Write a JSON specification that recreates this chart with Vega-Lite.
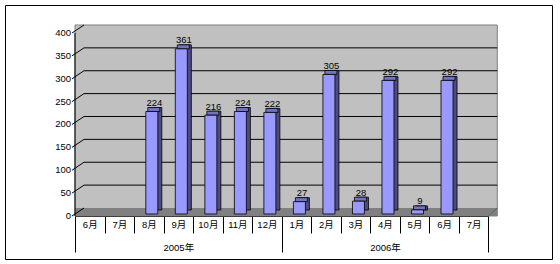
{
  "$schema": "https://vega.github.io/schema/vega-lite/v6.json",
  "width": 547,
  "height": 254,
  "autosize": "none",
  "padding": {"left": 5, "top": 5, "right": 8, "bottom": 5},
  "background": "white",
  "config": {
    "view": {"stroke": "black", "strokeWidth": 1},
    "font": "Liberation Sans, Noto Sans CJK SC",
    "axis": {"labelFont": "Liberation Sans, Noto Sans CJK SC", "labelFontSize": 9.5, "labelColor": "black", "domainColor": "black", "tickColor": "black", "grid": false, "zindex": 1},
    "text": {"font": "Liberation Sans", "fontSize": 9.5, "color": "black"}
  },
  "datasets": {
    "sales": [
      {"k": "2005-6", "year": "2005年", "v": null},
      {"k": "2005-7", "year": "2005年", "v": null},
      {"k": "2005-8", "year": "2005年", "v": 224},
      {"k": "2005-9", "year": "2005年", "v": 361},
      {"k": "2005-10", "year": "2005年", "v": 216},
      {"k": "2005-11", "year": "2005年", "v": 224},
      {"k": "2005-12", "year": "2005年", "v": 222},
      {"k": "2006-1", "year": "2006年", "v": 27},
      {"k": "2006-2", "year": "2006年", "v": 305},
      {"k": "2006-3", "year": "2006年", "v": 28},
      {"k": "2006-4", "year": "2006年", "v": 292},
      {"k": "2006-5", "year": "2006年", "v": 9},
      {"k": "2006-6", "year": "2006年", "v": 292},
      {"k": "2006-7", "year": "2006年", "v": null}
    ],
    "grid": [{"g": 0}, {"g": 50}, {"g": 100}, {"g": 150}, {"g": 200}, {"g": 250}, {"g": 300}, {"g": 350}, {"g": 400}]
  },
  "layer": [
    {
      "data": {"values": [{}]},
      "mark": {"type": "rect", "fill": "#C0C0C0", "stroke": "#808080", "strokeWidth": 1, "x2Offset": 9, "y2Offset": -8},
      "encoding": {
        "x": {"datum": 0, "type": "quantitative", "scale": {"domain": [0, 14], "range": [70, 483.3], "nice": false, "zero": false}, "axis": null},
        "x2": {"datum": 14},
        "y": {"datum": 0, "type": "quantitative", "scale": {"domain": [-94, 461.2], "nice": false, "zero": false}, "axis": null},
        "y2": {"datum": 400}
      }
    },
    {
      "data": {"values": [{}]},
      "mark": {"type": "rect", "fill": "#808080", "x2Offset": 9, "y2Offset": -8},
      "encoding": {
        "x": {"datum": 0, "type": "quantitative", "scale": {"domain": [0, 14], "range": [70, 483.3], "nice": false, "zero": false}, "axis": null},
        "x2": {"datum": 14},
        "y": {"datum": 0, "type": "quantitative", "axis": null},
        "y2": {"datum": 0}
      }
    },
    {
      "data": {"name": "grid"},
      "transform": [{"filter": "datum.g > 0 && datum.g < 400"}],
      "mark": {"type": "rule", "color": "black", "strokeWidth": 1, "xOffset": 9, "x2Offset": 9, "yOffset": -8, "y2Offset": -8},
      "encoding": {
        "x": {"datum": 0, "type": "quantitative", "scale": {"domain": [0, 14], "range": [70, 483.3], "nice": false, "zero": false}, "axis": null},
        "x2": {"datum": 14},
        "y": {"field": "g", "type": "quantitative", "axis": null},
        "y2": {"field": "g"}
      }
    },
    {
      "data": {"name": "grid"},
      "mark": {"type": "rule", "color": "black", "strokeWidth": 1, "xOffset": -3, "x2Offset": 9, "y2Offset": -8},
      "encoding": {
        "x": {"datum": 0, "type": "quantitative", "scale": {"domain": [0, 14], "range": [70, 483.3], "nice": false, "zero": false}, "axis": null},
        "x2": {"datum": 0},
        "y": {"field": "g", "type": "quantitative", "axis": null},
        "y2": {"field": "g"}
      }
    },
    {
      "data": {"name": "grid"},
      "mark": {"type": "text", "align": "right", "baseline": "middle", "xOffset": -4, "font": "Liberation Sans", "fontSize": 9.5, "color": "black"},
      "encoding": {
        "x": {"datum": 0, "type": "quantitative", "scale": {"domain": [0, 14], "range": [70, 483.3], "nice": false, "zero": false}, "axis": null},
        "y": {"field": "g", "type": "quantitative", "axis": null},
        "text": {"field": "g", "type": "quantitative"}
      }
    },
    {
      "data": {"values": [{}]},
      "mark": {"type": "rule", "color": "black", "strokeWidth": 1},
      "encoding": {
        "x": {"datum": 0, "type": "quantitative", "scale": {"domain": [0, 14], "range": [70, 483.3], "nice": false, "zero": false}, "axis": null},
        "y": {"datum": 0, "type": "quantitative", "axis": null},
        "y2": {"datum": 400}
      }
    },
    {
      "data": {"values": [{}]},
      "mark": {"type": "rule", "color": "#606060", "strokeWidth": 1, "x2Offset": 9, "y2Offset": -8},
      "encoding": {
        "x": {"datum": 14, "type": "quantitative", "scale": {"domain": [0, 14], "range": [70, 483.3], "nice": false, "zero": false}, "axis": null},
        "x2": {"datum": 14},
        "y": {"datum": 0, "type": "quantitative", "axis": null},
        "y2": {"datum": 0}
      }
    },
    {
      "data": {"name": "sales"},
      "mark": {"type": "bar", "fill": "#4C4C80", "stroke": "black", "strokeWidth": 0.8, "size": 12, "xOffset": 7, "yOffset": -6, "y2Offset": -6},
      "encoding": {
        "x": {"field": "k", "type": "nominal", "sort": null, "scale": {"type": "band", "domain": ["2005-6", "2005-7", "2005-8", "2005-9", "2005-10", "2005-11", "2005-12", "2006-1", "2006-2", "2006-3", "2006-4", "2006-5", "2006-6", "2006-7"], "range": [70, 483.3], "paddingInner": 0, "paddingOuter": 0}, "axis": null},
        "y": {"field": "v", "type": "quantitative", "axis": null},
        "y2": {"datum": 0}
      }
    },
    {
      "data": {"name": "sales"},
      "mark": {"type": "bar", "fill": "#7373BF", "stroke": "black", "strokeWidth": 0.8, "size": 12, "xOffset": 5, "yOffset": -6, "y2Offset": -2},
      "encoding": {
        "x": {"field": "k", "type": "nominal", "sort": null, "scale": {"type": "band", "domain": ["2005-6", "2005-7", "2005-8", "2005-9", "2005-10", "2005-11", "2005-12", "2006-1", "2006-2", "2006-3", "2006-4", "2006-5", "2006-6", "2006-7"], "range": [70, 483.3], "paddingInner": 0, "paddingOuter": 0}, "axis": null},
        "y": {"field": "v", "type": "quantitative", "axis": null},
        "y2": {"field": "v"}
      }
    },
    {
      "data": {"name": "sales"},
      "mark": {"type": "bar", "fill": "#9999FF", "stroke": "black", "strokeWidth": 0.8, "size": 12, "xOffset": 3, "yOffset": -2, "y2Offset": -2},
      "encoding": {
        "x": {"field": "k", "type": "nominal", "sort": null, "scale": {"type": "band", "domain": ["2005-6", "2005-7", "2005-8", "2005-9", "2005-10", "2005-11", "2005-12", "2006-1", "2006-2", "2006-3", "2006-4", "2006-5", "2006-6", "2006-7"], "range": [70, 483.3], "paddingInner": 0, "paddingOuter": 0}, "axis": {"orient": "bottom", "offset": -43, "tickBand": "extent", "tickSize": 17, "labelBaseline": "middle", "labelPadding": -9, "labelAngle": 0, "domain": true, "title": null, "labelExpr": "datum.value ? split(datum.value, '-')[1] + '月' : ''"}},
        "y": {"field": "v", "type": "quantitative", "axis": null},
        "y2": {"datum": 0}
      }
    },
    {
      "data": {"name": "sales"},
      "mark": {"type": "text", "baseline": "alphabetic", "align": "center", "xOffset": 5.5, "yOffset": -7.5},
      "encoding": {
        "x": {"field": "k", "type": "nominal", "sort": null, "scale": {"type": "band", "domain": ["2005-6", "2005-7", "2005-8", "2005-9", "2005-10", "2005-11", "2005-12", "2006-1", "2006-2", "2006-3", "2006-4", "2006-5", "2006-6", "2006-7"], "range": [70, 483.3], "paddingInner": 0, "paddingOuter": 0}, "axis": null},
        "y": {"field": "v", "type": "quantitative", "axis": null},
        "text": {"field": "v", "type": "quantitative"}
      }
    },
    {
      "data": {"name": "sales"},
      "mark": {"type": "point", "opacity": 0},
      "encoding": {
        "x": {"field": "year", "type": "nominal", "scale": {"type": "band", "domain": ["2005年", "2006年"], "range": [70, 483.3], "paddingInner": 0, "paddingOuter": 0}, "axis": {"orient": "bottom", "offset": -43, "tickBand": "extent", "tickSize": 36, "domain": false, "labelBaseline": "middle", "labelPadding": -5, "labelAngle": 0, "title": null}}
      }
    }
  ],
  "resolve": {"scale": {"x": "independent"}}
}
